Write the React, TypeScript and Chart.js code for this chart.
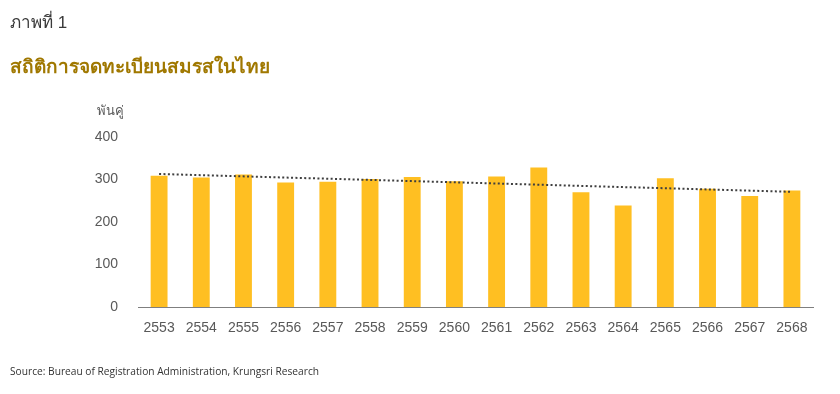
import React, { useEffect, useRef } from "react";
import { Chart, registerables } from "chart.js";

Chart.register(...registerables);

const years = ["2553","2554","2555","2556","2557","2558","2559","2560","2561","2562","2563","2564","2565","2566","2567","2568"];
const marriages = [309,305,312,293,295,301,306,296,307,328,270,239,303,278,261,274];
const trend = [313,null,null,null,null,null,null,null,null,null,null,null,null,null,null,271];
const yTicks = [0,100,200,300,400];

const FONT = "'Liberation Sans', Arial, sans-serif";

export default function App() {
  const ref = useRef<HTMLCanvasElement>(null);
  useEffect(() => {
    if (!ref.current) return;
    const chart = new Chart(ref.current, {
      type: "bar",
      data: {
        labels: years,
        datasets: [
          {
            type: "line",
            data: trend,
            borderColor: "#3f3f3f",
            borderWidth: 2,
            borderDash: [2, 2.4],
            pointRadius: 0,
            spanGaps: true,
            fill: false,
            order: 0,
          } as any,
          {
            type: "bar",
            data: marriages,
            backgroundColor: "#FFBF22",
            barPercentage: 0.4,
            categoryPercentage: 1,
            order: 1,
          },
        ],
      },
      options: {
        responsive: false,
        animation: false,
        layout: { padding: { left: 78, right: 27, top: 137, bottom: 57 } },
        plugins: { legend: { display: false }, tooltip: { enabled: false } },
        scales: {
          x: {
            grid: { display: false, drawTicks: false },
            border: { display: true, color: "#7f7f7f", width: 1 },
            ticks: { color: "#595959", font: { family: FONT, size: 14 }, padding: 13, maxRotation: 0 },
            afterFit: (s: any) => { s.height = 30; },
          },
          y: {
            min: 0,
            max: 400,
            afterBuildTicks: (s: any) => { s.ticks = yTicks.map((v) => ({ value: v })); },
            grid: { display: false, drawTicks: false },
            border: { display: false },
            ticks: { color: "#595959", font: { family: FONT, size: 14 }, padding: 20 },
            afterFit: (s: any) => { s.width = 60; },
          },
        },
      },
    });
    return () => chart.destroy();
  }, []);

  return (
    <div style={{ position: "fixed", left: 0, top: 0, width: 840, height: 394, background: "#fff", overflow: "hidden" }}>
      <canvas ref={ref} width={840} height={394} style={{ position: "absolute", left: 0, top: 0, width: 840, height: 394 }} />
      <div style={{ position: "absolute", left: 10, top: 8, fontFamily: FONT, fontSize: 17, color: "#3a3a3a" }}>ภาพที่ 1</div>
      <div style={{ position: "absolute", left: 10, top: 51, fontFamily: FONT, fontSize: 19, fontWeight: "bold", color: "#A07800" }}>สถิติการจดทะเบียนสมรสในไทย</div>
      <div style={{ position: "absolute", left: 97, top: 100, fontFamily: FONT, fontSize: 13, color: "#595959" }}>พันคู่</div>
      <div style={{ position: "absolute", left: 10, top: 364, fontFamily: "'Open Sans', sans-serif", fontSize: 10.2, color: "#333333" }}>Source: Bureau of Registration Administration, Krungsri Research</div>
    </div>
  );
}
